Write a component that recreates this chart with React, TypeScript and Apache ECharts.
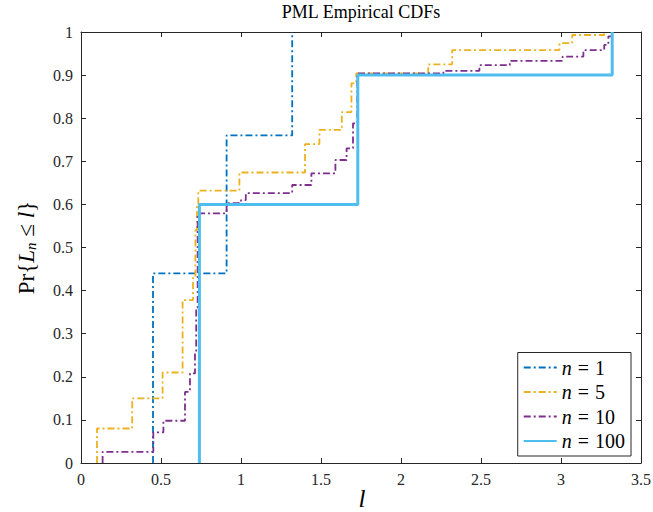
import React, { useEffect, useRef } from 'react';
import * as echarts from 'echarts';

// n = 1
const n1X = [0.45, 0.45, 0.91, 1.32];
const n1Y = [0, 0.44, 0.76, 1.0];
// n = 5
const n5X = [0.1, 0.1, 0.32, 0.51, 0.635, 0.7, 0.715, 0.725, 0.733, 0.99, 1.4, 1.49, 1.63, 1.69, 1.72, 2.17, 2.32, 2.99, 3.07, 3.27];
const n5Y = [0, 0.08, 0.15, 0.21, 0.378, 0.43, 0.54, 0.6, 0.632, 0.674, 0.74, 0.773, 0.814, 0.881, 0.904, 0.925, 0.958, 0.974, 0.993, 1.0];
// n = 10
const n10X = [0.135, 0.135, 0.452, 0.515, 0.65, 0.681, 0.7125, 0.72, 0.729, 0.91, 1.0, 1.03, 1.32, 1.44, 1.59, 1.66, 1.7, 1.727, 2.265, 2.49, 2.68, 3.01, 3.14, 3.27, 3.296, 3.32];
const n10Y = [0, 0.026, 0.071, 0.098, 0.165, 0.208, 0.255, 0.36, 0.579, 0.603, 0.61, 0.626, 0.645, 0.672, 0.703, 0.73, 0.788, 0.904, 0.91, 0.923, 0.933, 0.943, 0.958, 0.97, 0.99, 1.0];
// n = 100
const n100X = [0.74, 0.74, 1.73, 3.32];
const n100Y = [0, 0.6, 0.9, 1.0];

const seriesNames = ['n = 1', 'n = 5', 'n = 10', 'n = 100'];
const seriesColors = ['#0072BD', '#EDB120', '#7E2F8E', '#4DBEEE'];
const xTicks = [0, 3.5, 0.5];
const yTicks = [0, 1, 0.1];

const FONT = '"Liberation Serif", "DejaVu Serif", serif';
const AXIS_COLOR = '#262626';

const pairs = (xs: number[], ys: number[]) => xs.map((x, i) => [x, ys[i]]);

export default function App() {
  const ref = useRef<HTMLDivElement>(null);
  useEffect(() => {
    const chart = echarts.init(ref.current!, null, { renderer: 'svg' });
    const dashDot = [7, 3, 2, 3];
    const data = [pairs(n1X, n1Y), pairs(n5X, n5Y), pairs(n10X, n10Y), pairs(n100X, n100Y)];
    const widths = [1.8, 1.8, 1.8, 3];
    const types: any[] = [dashDot, dashDot, dashDot, 'solid'];
    const axisCommon = {
      axisLine: { show: true, onZero: false, lineStyle: { color: AXIS_COLOR, width: 1 } },
      axisTick: { show: true, inside: true, length: 5, lineStyle: { color: AXIS_COLOR } },
      splitLine: { show: false },
    };
    const option: any = {
      animation: false,
      backgroundColor: '#ffffff',
      grid: { left: 81, right: 12, top: 32, bottom: 49, containLabel: false, outerBoundsMode: 'none' },
      graphic: [
        {
          type: 'text',
          x: 361,
          y: 3,
          style: {
            text: 'PML Empirical CDFs',
            textAlign: 'center',
            textVerticalAlign: 'top',
            font: `18px ${FONT}`,
            fill: '#000000',
          },
        },
        {
          type: 'text',
          x: 362,
          y: 498,
          style: {
            text: 'l',
            textAlign: 'center',
            textVerticalAlign: 'middle',
            font: `italic 25px ${FONT}`,
            fill: '#000000',
          },
        },
      ],
      legend: {
        orient: 'vertical',
        right: 22,
        bottom: 56,
        itemWidth: 33,
        itemHeight: 12,
        itemGap: 4.5,
        padding: [5, 6, 5, 5],
        borderColor: AXIS_COLOR,
        borderWidth: 1,
        borderRadius: 0,
        backgroundColor: '#ffffff',
        itemStyle: { opacity: 0 },
        data: seriesNames,
        formatter: (name: string) => `{i|n}{e|=}{t|${name.split('= ')[1]}}`,
        textStyle: {
          fontFamily: FONT,
          fontSize: 20,
          color: '#000000',
          rich: {
            i: { fontFamily: FONT, fontSize: 20, fontStyle: 'italic', color: '#000000', lineHeight: 20 },
            e: { fontFamily: FONT, fontSize: 20, color: '#000000', padding: [0, 6, 0, 6], lineHeight: 20 },
            t: { fontFamily: FONT, fontSize: 20, color: '#000000', lineHeight: 20 },
          },
        },
      },
      xAxis: [
        {
          type: 'value',
          min: xTicks[0],
          max: xTicks[1],
          interval: xTicks[2],
          position: 'bottom',
          ...axisCommon,
          axisLabel: { color: AXIS_COLOR, fontFamily: FONT, fontSize: 16, margin: 8 },
        },
        {
          type: 'value',
          min: xTicks[0],
          max: xTicks[1],
          interval: xTicks[2],
          position: 'top',
          ...axisCommon,
          axisLabel: { show: false },
        },
      ],
      yAxis: [
        {
          type: 'value',
          min: yTicks[0],
          max: yTicks[1],
          interval: yTicks[2],
          position: 'left',
          ...axisCommon,
          axisLabel: { color: AXIS_COLOR, fontFamily: FONT, fontSize: 16, margin: 8 },
          name: 'Pr{{i|L}{s|n} ≤ {i|l}}',
          nameLocation: 'middle',
          nameRotate: 90,
          nameGap: 43,
          nameTextStyle: {
            fontFamily: FONT,
            fontSize: 23,
            color: '#000000',
            rich: {
              i: { fontFamily: FONT, fontSize: 23, fontStyle: 'italic', color: '#000000' },
              s: { fontFamily: FONT, fontSize: 15, fontStyle: 'italic', color: '#000000', verticalAlign: 'bottom', padding: [8, 0, 0, 0] },
            },
          },
        },
        {
          type: 'value',
          min: yTicks[0],
          max: yTicks[1],
          interval: yTicks[2],
          position: 'right',
          ...axisCommon,
          axisLabel: { show: false },
        },
      ],
      series: seriesNames.map((name, i) => ({
        name,
        type: 'line',
        step: 'end',
        data: data[i],
        showSymbol: false,
        symbol: 'none',
        clip: true,
        color: seriesColors[i],
        lineStyle: { color: seriesColors[i], width: widths[i], type: types[i] },
        itemStyle: { color: seriesColors[i] },
        z: 2 + i,
      })),
    };
    chart.setOption(option);
    return () => chart.dispose();
  }, []);
  return <div ref={ref} style={{ position: 'absolute', left: 0, top: 0, width: 653, height: 512 }} />;
}
